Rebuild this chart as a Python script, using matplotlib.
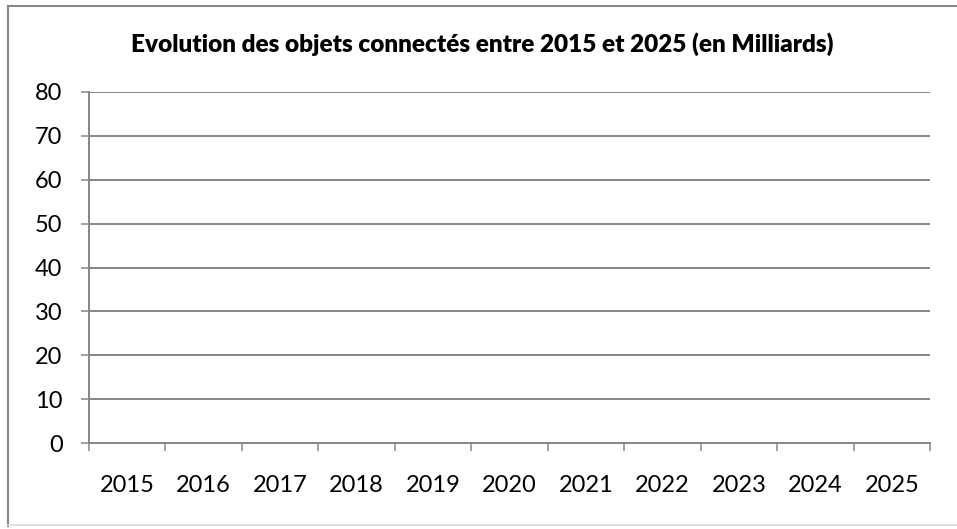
import numpy as np
import matplotlib
matplotlib.use('Agg')
import matplotlib.pyplot as plt
from matplotlib.lines import Line2D

# Données du graphique (aucune série tracée dans l'original)
annees = ['2015', '2016', '2017', '2018', '2019', '2020',
          '2021', '2022', '2023', '2024', '2025']
valeurs = [np.nan] * len(annees)
graduations_y = [0, 10, 20, 30, 40, 50, 60, 70, 80]
titre = "Evolution des objets connectés entre 2015 et 2025 (en Milliards)"

gris = '#868686'
plt.rcParams['font.family'] = ['Lato', 'DejaVu Sans']

fig = plt.figure(figsize=(9.57, 5.29), dpi=100)
ax = fig.add_axes([89 / 957, 1 - 443 / 529, (930 - 89) / 957, (443 - 92) / 529])

x = np.arange(len(annees)) + 0.5
ax.plot(x, valeurs, color='#4F81BD', linewidth=2)

ax.set_xlim(0, len(annees))
ax.set_ylim(graduations_y[0], graduations_y[-1])

# Axe des catégories : graduations entre les catégories, étiquettes au centre
ax.set_xticks(np.arange(len(annees) + 1))
ax.set_xticklabels([])
ax.set_xticks(x, minor=True)
ax.set_xticklabels(annees, minor=True)
ax.tick_params(axis='x', which='major', direction='out', length=6, width=1.1, color=gris)
ax.tick_params(axis='x', which='minor', length=0, pad=23, labelsize=17)

ax.set_yticks(graduations_y)
ax.tick_params(axis='y', direction='out', length=6, width=1.1, color=gris, pad=13, labelsize=17)

ax.grid(axis='y', color=gris, linewidth=1.4)
ax.set_axisbelow(True)
for s in ['top', 'right']:
    ax.spines[s].set_visible(False)
for s in ['left', 'bottom']:
    ax.spines[s].set_color(gris)
    ax.spines[s].set_linewidth(1.4)

fig.text(482 / 957, 1 - 44 / 529, titre, ha='center', va='center',
         fontsize=17.5, fontweight='heavy')

# Cadre extérieur du graphique
W, H = 957, 529
fig.add_artist(Line2D([8 / W, 1], [1 - 6 / H, 1 - 6 / H], color=gris, linewidth=1.5))
fig.add_artist(Line2D([8 / W, 8 / W], [1 - 6 / H, 1 - 526 / H], color=gris, linewidth=1.5))
fig.add_artist(Line2D([8 / W, 1], [1 - 525 / H, 1 - 525 / H], color='#d9d9d9', linewidth=1.2))

fig.savefig('out.png', dpi=100)
